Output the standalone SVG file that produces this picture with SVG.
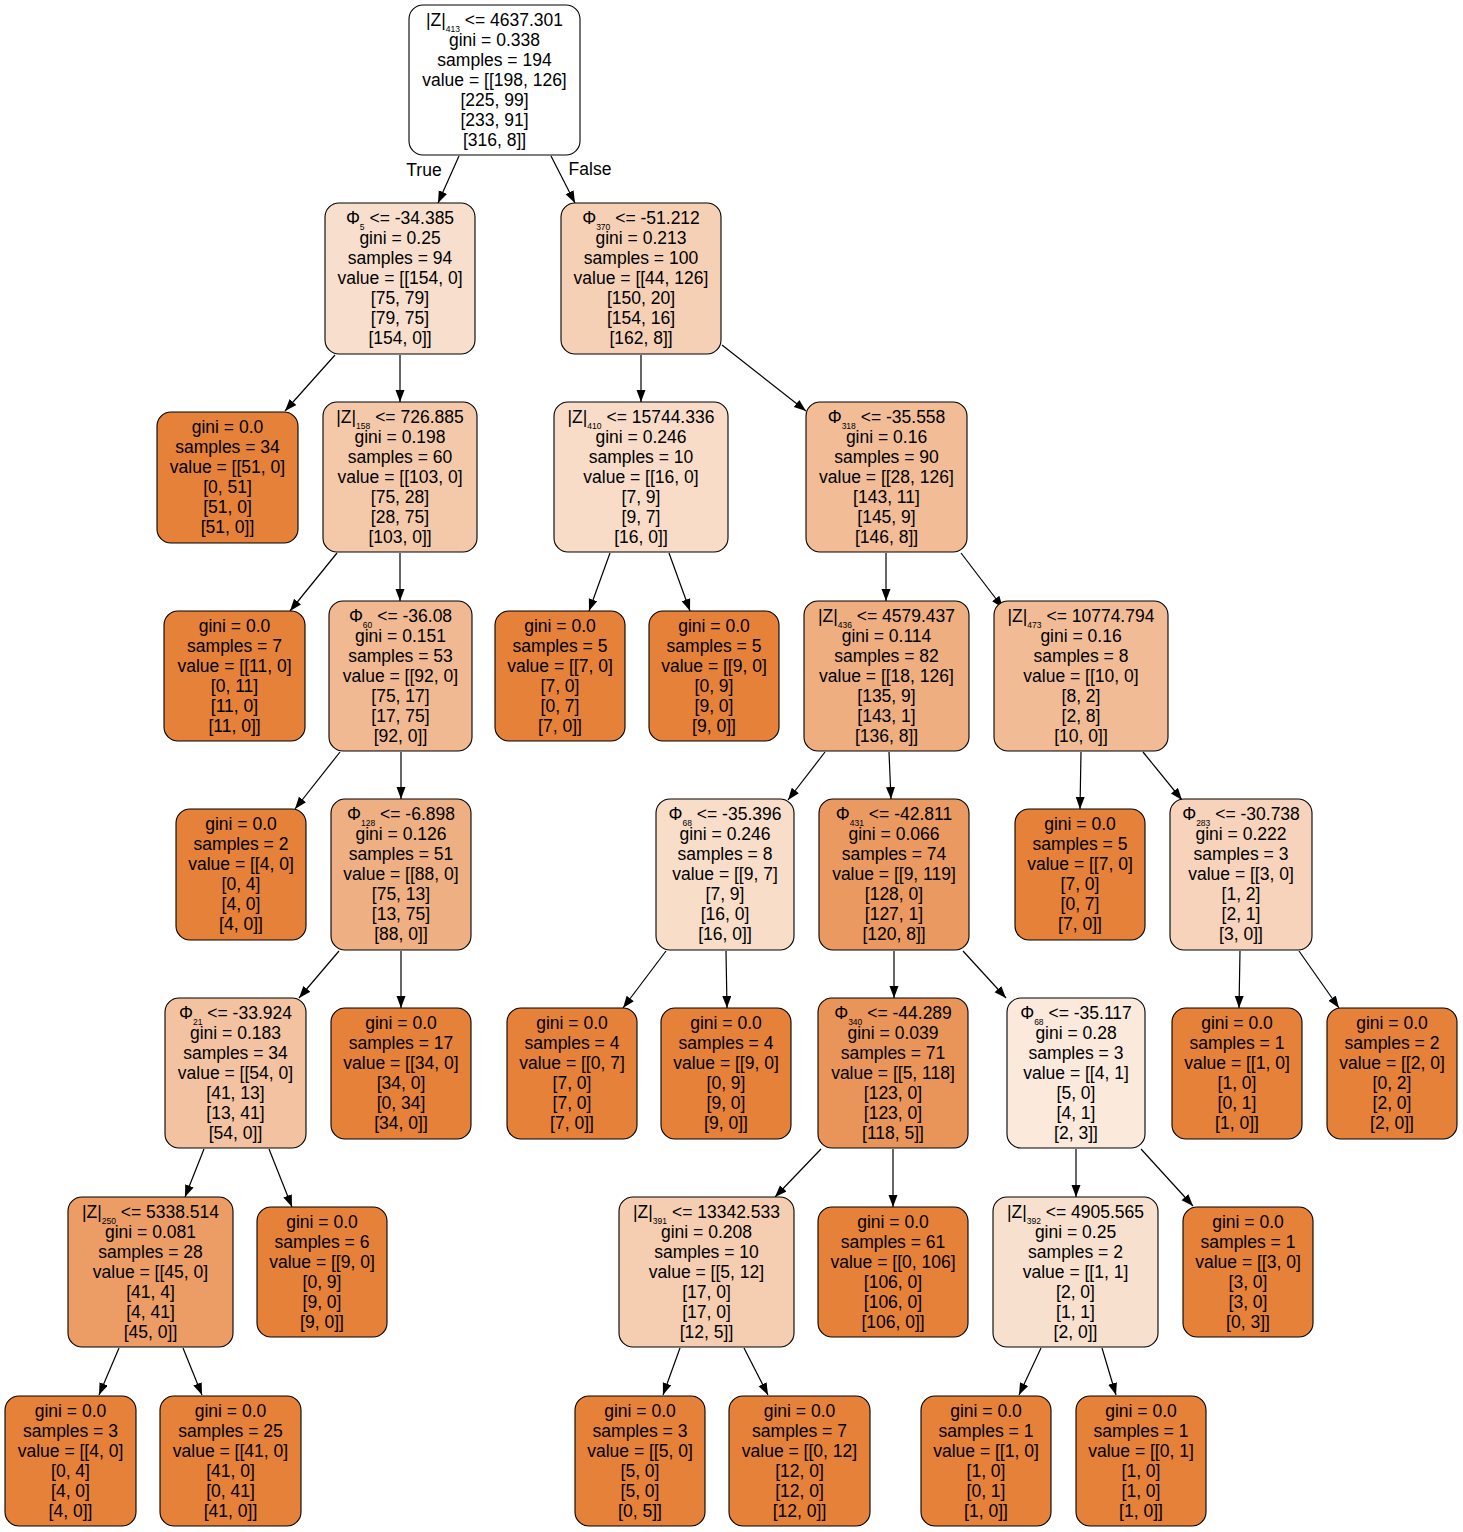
<svg xmlns="http://www.w3.org/2000/svg" width="1463" height="1532" viewBox="0 0 1463 1532">
<defs>
<style>
.n{stroke:#000;stroke-width:1.1}
.leaf{fill:#e58139}
text{font-family:"Liberation Sans",Arial,Helvetica,sans-serif;font-size:17.5px;fill:#000;text-anchor:middle}
.s{font-size:8.5px}
.e{stroke:#000;stroke-width:1.2;fill:none;marker-end:url(#ah)}
</style>
<marker id="ah" markerUnits="userSpaceOnUse" markerWidth="13" markerHeight="10" refX="12" refY="4.5" orient="auto">
<path d="M0,0 L12,4.5 L0,9 z" fill="#000"/>
</marker>
</defs>
<rect width="1463" height="1532" fill="#fff"/>

<g id="connectors">
<line class="e" x1="459" y1="156" x2="438" y2="203"/>
<line class="e" x1="551" y1="156" x2="575" y2="203"/>
<line class="e" x1="335" y1="355" x2="285" y2="411"/>
<line class="e" x1="400" y1="355" x2="400" y2="402"/>
<line class="e" x1="641" y1="355" x2="641" y2="402"/>
<line class="e" x1="722" y1="345" x2="806" y2="411"/>
<line class="e" x1="337" y1="553" x2="290" y2="611"/>
<line class="e" x1="400" y1="553" x2="400" y2="601"/>
<line class="e" x1="610" y1="553" x2="589" y2="611"/>
<line class="e" x1="669" y1="553" x2="690" y2="611"/>
<line class="e" x1="886" y1="553" x2="886" y2="601"/>
<line class="e" x1="961" y1="553" x2="1003" y2="608"/>
<line class="e" x1="340" y1="752" x2="295" y2="809"/>
<line class="e" x1="401" y1="752" x2="401" y2="799"/>
<line class="e" x1="825" y1="752" x2="788" y2="800"/>
<line class="e" x1="889" y1="752" x2="891" y2="799"/>
<line class="e" x1="1081" y1="752" x2="1080" y2="809"/>
<line class="e" x1="1143" y1="752" x2="1182" y2="800"/>
<line class="e" x1="339" y1="951" x2="299" y2="998"/>
<line class="e" x1="401" y1="951" x2="401" y2="1008"/>
<line class="e" x1="666" y1="951" x2="623" y2="1008"/>
<line class="e" x1="726" y1="951" x2="727" y2="1008"/>
<line class="e" x1="894" y1="951" x2="894" y2="998"/>
<line class="e" x1="963" y1="951" x2="1006" y2="998"/>
<line class="e" x1="1240" y1="951" x2="1239" y2="1008"/>
<line class="e" x1="1299" y1="951" x2="1339" y2="1008"/>
<line class="e" x1="204" y1="1149" x2="185" y2="1197"/>
<line class="e" x1="269" y1="1149" x2="292" y2="1207"/>
<line class="e" x1="821" y1="1149" x2="775" y2="1197"/>
<line class="e" x1="893" y1="1149" x2="893" y2="1207"/>
<line class="e" x1="1076" y1="1149" x2="1076" y2="1197"/>
<line class="e" x1="1141" y1="1149" x2="1193" y2="1206"/>
<line class="e" x1="119" y1="1348" x2="99" y2="1395"/>
<line class="e" x1="183" y1="1348" x2="202" y2="1395"/>
<line class="e" x1="680" y1="1348" x2="663" y2="1395"/>
<line class="e" x1="744" y1="1348" x2="768" y2="1395"/>
<line class="e" x1="1041" y1="1348" x2="1019" y2="1395"/>
<line class="e" x1="1102" y1="1348" x2="1116" y2="1395"/>
<text x="424" y="176">True</text>
<text x="590" y="175">False</text>
</g>

<!-- Level 0 -->
<g id="root">
<rect class="n" x="409" y="5" width="171" height="150" rx="14" fill="#ffffff"/>
<text><tspan x="494.5" y="26">|Z|</tspan><tspan class="s" dy="6">413</tspan><tspan dy="-6"> &lt;= 4637.301</tspan><tspan x="494.5" dy="20">gini = 0.338</tspan><tspan x="494.5" dy="20">samples = 194</tspan><tspan x="494.5" dy="20">value = [[198, 126]</tspan><tspan x="494.5" dy="20">[225, 99]</tspan><tspan x="494.5" dy="20">[233, 91]</tspan><tspan x="494.5" dy="20">[316, 8]]</tspan></text>
</g>

<!-- Level 1 -->
<g id="n_phi5">
<rect class="n" x="325" y="203" width="150" height="151" rx="14" fill="#f8dfcd"/>
<text><tspan x="400" y="224">Φ</tspan><tspan class="s" dy="6">5</tspan><tspan dy="-6"> &lt;= -34.385</tspan><tspan x="400" dy="20">gini = 0.25</tspan><tspan x="400" dy="20">samples = 94</tspan><tspan x="400" dy="20">value = [[154, 0]</tspan><tspan x="400" dy="20">[75, 79]</tspan><tspan x="400" dy="20">[79, 75]</tspan><tspan x="400" dy="20">[154, 0]]</tspan></text>
</g>
<g id="n_phi370">
<rect class="n" x="561" y="203" width="160" height="151" rx="14" fill="#f5d0b5"/>
<text><tspan x="641" y="224">Φ</tspan><tspan class="s" dy="6">370</tspan><tspan dy="-6"> &lt;= -51.212</tspan><tspan x="641" dy="20">gini = 0.213</tspan><tspan x="641" dy="20">samples = 100</tspan><tspan x="641" dy="20">value = [[44, 126]</tspan><tspan x="641" dy="20">[150, 20]</tspan><tspan x="641" dy="20">[154, 16]</tspan><tspan x="641" dy="20">[162, 8]]</tspan></text>
</g>

<!-- Level 2 -->
<g id="leaf_34">
<rect class="n leaf" x="157" y="412" width="141" height="131" rx="14"/>
<text><tspan x="227.5" y="433">gini = 0.0</tspan><tspan x="227.5" dy="20">samples = 34</tspan><tspan x="227.5" dy="20">value = [[51, 0]</tspan><tspan x="227.5" dy="20">[0, 51]</tspan><tspan x="227.5" dy="20">[51, 0]</tspan><tspan x="227.5" dy="20">[51, 0]]</tspan></text>
</g>
<g id="n_z158">
<rect class="n" x="323" y="402" width="154" height="150" rx="14" fill="#f4c9aa"/>
<text><tspan x="400" y="423">|Z|</tspan><tspan class="s" dy="6">158</tspan><tspan dy="-6"> &lt;= 726.885</tspan><tspan x="400" dy="20">gini = 0.198</tspan><tspan x="400" dy="20">samples = 60</tspan><tspan x="400" dy="20">value = [[103, 0]</tspan><tspan x="400" dy="20">[75, 28]</tspan><tspan x="400" dy="20">[28, 75]</tspan><tspan x="400" dy="20">[103, 0]]</tspan></text>
</g>
<g id="n_z410">
<rect class="n" x="554" y="402" width="174" height="150" rx="14" fill="#f8dcc8"/>
<text><tspan x="641" y="423">|Z|</tspan><tspan class="s" dy="6">410</tspan><tspan dy="-6"> &lt;= 15744.336</tspan><tspan x="641" dy="20">gini = 0.246</tspan><tspan x="641" dy="20">samples = 10</tspan><tspan x="641" dy="20">value = [[16, 0]</tspan><tspan x="641" dy="20">[7, 9]</tspan><tspan x="641" dy="20">[9, 7]</tspan><tspan x="641" dy="20">[16, 0]]</tspan></text>
</g>
<g id="n_phi318">
<rect class="n" x="806" y="402" width="161" height="150" rx="14" fill="#f1bc96"/>
<text><tspan x="886.5" y="423">Φ</tspan><tspan class="s" dy="6">318</tspan><tspan dy="-6"> &lt;= -35.558</tspan><tspan x="886.5" dy="20">gini = 0.16</tspan><tspan x="886.5" dy="20">samples = 90</tspan><tspan x="886.5" dy="20">value = [[28, 126]</tspan><tspan x="886.5" dy="20">[143, 11]</tspan><tspan x="886.5" dy="20">[145, 9]</tspan><tspan x="886.5" dy="20">[146, 8]]</tspan></text>
</g>

<!-- Level 3 -->
<g id="leaf_7">
<rect class="n leaf" x="164" y="611" width="141" height="130" rx="14"/>
<text><tspan x="234.5" y="632">gini = 0.0</tspan><tspan x="234.5" dy="20">samples = 7</tspan><tspan x="234.5" dy="20">value = [[11, 0]</tspan><tspan x="234.5" dy="20">[0, 11]</tspan><tspan x="234.5" dy="20">[11, 0]</tspan><tspan x="234.5" dy="20">[11, 0]]</tspan></text>
</g>
<g id="n_phi60">
<rect class="n" x="329" y="601" width="143" height="150" rx="14" fill="#f1b991"/>
<text><tspan x="400.5" y="622">Φ</tspan><tspan class="s" dy="6">60</tspan><tspan dy="-6"> &lt;= -36.08</tspan><tspan x="400.5" dy="20">gini = 0.151</tspan><tspan x="400.5" dy="20">samples = 53</tspan><tspan x="400.5" dy="20">value = [[92, 0]</tspan><tspan x="400.5" dy="20">[75, 17]</tspan><tspan x="400.5" dy="20">[17, 75]</tspan><tspan x="400.5" dy="20">[92, 0]]</tspan></text>
</g>
<g id="leaf_5a">
<rect class="n leaf" x="495" y="611" width="130" height="130" rx="14"/>
<text><tspan x="560" y="632">gini = 0.0</tspan><tspan x="560" dy="20">samples = 5</tspan><tspan x="560" dy="20">value = [[7, 0]</tspan><tspan x="560" dy="20">[7, 0]</tspan><tspan x="560" dy="20">[0, 7]</tspan><tspan x="560" dy="20">[7, 0]]</tspan></text>
</g>
<g id="leaf_5b">
<rect class="n leaf" x="649" y="611" width="130" height="130" rx="14"/>
<text><tspan x="714" y="632">gini = 0.0</tspan><tspan x="714" dy="20">samples = 5</tspan><tspan x="714" dy="20">value = [[9, 0]</tspan><tspan x="714" dy="20">[0, 9]</tspan><tspan x="714" dy="20">[9, 0]</tspan><tspan x="714" dy="20">[9, 0]]</tspan></text>
</g>
<g id="n_z436">
<rect class="n" x="804" y="601" width="165" height="150" rx="14" fill="#eeae80"/>
<text><tspan x="886.5" y="622">|Z|</tspan><tspan class="s" dy="6">436</tspan><tspan dy="-6"> &lt;= 4579.437</tspan><tspan x="886.5" dy="20">gini = 0.114</tspan><tspan x="886.5" dy="20">samples = 82</tspan><tspan x="886.5" dy="20">value = [[18, 126]</tspan><tspan x="886.5" dy="20">[135, 9]</tspan><tspan x="886.5" dy="20">[143, 1]</tspan><tspan x="886.5" dy="20">[136, 8]]</tspan></text>
</g>
<g id="n_z473">
<rect class="n" x="994" y="601" width="174" height="150" rx="14" fill="#f1bc95"/>
<text><tspan x="1081" y="622">|Z|</tspan><tspan class="s" dy="6">473</tspan><tspan dy="-6"> &lt;= 10774.794</tspan><tspan x="1081" dy="20">gini = 0.16</tspan><tspan x="1081" dy="20">samples = 8</tspan><tspan x="1081" dy="20">value = [[10, 0]</tspan><tspan x="1081" dy="20">[8, 2]</tspan><tspan x="1081" dy="20">[2, 8]</tspan><tspan x="1081" dy="20">[10, 0]]</tspan></text>
</g>

<!-- Level 4 -->
<g id="leaf_2">
<rect class="n leaf" x="176" y="809" width="130" height="131" rx="14"/>
<text><tspan x="241" y="830">gini = 0.0</tspan><tspan x="241" dy="20">samples = 2</tspan><tspan x="241" dy="20">value = [[4, 0]</tspan><tspan x="241" dy="20">[0, 4]</tspan><tspan x="241" dy="20">[4, 0]</tspan><tspan x="241" dy="20">[4, 0]]</tspan></text>
</g>
<g id="n_phi128">
<rect class="n" x="331" y="799" width="140" height="151" rx="14" fill="#eeb083"/>
<text><tspan x="401" y="820">Φ</tspan><tspan class="s" dy="6">128</tspan><tspan dy="-6"> &lt;= -6.898</tspan><tspan x="401" dy="20">gini = 0.126</tspan><tspan x="401" dy="20">samples = 51</tspan><tspan x="401" dy="20">value = [[88, 0]</tspan><tspan x="401" dy="20">[75, 13]</tspan><tspan x="401" dy="20">[13, 75]</tspan><tspan x="401" dy="20">[88, 0]]</tspan></text>
</g>
<g id="n_phi68a">
<rect class="n" x="656" y="799" width="138" height="151" rx="14" fill="#f8ddc9"/>
<text><tspan x="725" y="820">Φ</tspan><tspan class="s" dy="6">68</tspan><tspan dy="-6"> &lt;= -35.396</tspan><tspan x="725" dy="20">gini = 0.246</tspan><tspan x="725" dy="20">samples = 8</tspan><tspan x="725" dy="20">value = [[9, 7]</tspan><tspan x="725" dy="20">[7, 9]</tspan><tspan x="725" dy="20">[16, 0]</tspan><tspan x="725" dy="20">[16, 0]]</tspan></text>
</g>
<g id="n_phi431">
<rect class="n" x="819" y="799" width="150" height="151" rx="14" fill="#ea9a61"/>
<text><tspan x="894" y="820">Φ</tspan><tspan class="s" dy="6">431</tspan><tspan dy="-6"> &lt;= -42.811</tspan><tspan x="894" dy="20">gini = 0.066</tspan><tspan x="894" dy="20">samples = 74</tspan><tspan x="894" dy="20">value = [[9, 119]</tspan><tspan x="894" dy="20">[128, 0]</tspan><tspan x="894" dy="20">[127, 1]</tspan><tspan x="894" dy="20">[120, 8]]</tspan></text>
</g>
<g id="leaf_5c">
<rect class="n leaf" x="1015" y="809" width="130" height="131" rx="14"/>
<text><tspan x="1080" y="830">gini = 0.0</tspan><tspan x="1080" dy="20">samples = 5</tspan><tspan x="1080" dy="20">value = [[7, 0]</tspan><tspan x="1080" dy="20">[7, 0]</tspan><tspan x="1080" dy="20">[0, 7]</tspan><tspan x="1080" dy="20">[7, 0]]</tspan></text>
</g>
<g id="n_phi283">
<rect class="n" x="1170" y="799" width="142" height="151" rx="14" fill="#f6d3ba"/>
<text><tspan x="1241" y="820">Φ</tspan><tspan class="s" dy="6">283</tspan><tspan dy="-6"> &lt;= -30.738</tspan><tspan x="1241" dy="20">gini = 0.222</tspan><tspan x="1241" dy="20">samples = 3</tspan><tspan x="1241" dy="20">value = [[3, 0]</tspan><tspan x="1241" dy="20">[1, 2]</tspan><tspan x="1241" dy="20">[2, 1]</tspan><tspan x="1241" dy="20">[3, 0]]</tspan></text>
</g>

<!-- Level 5 -->
<g id="n_phi21">
<rect class="n" x="165" y="998" width="141" height="150" rx="14" fill="#f3c3a1"/>
<text><tspan x="235.5" y="1019">Φ</tspan><tspan class="s" dy="6">21</tspan><tspan dy="-6"> &lt;= -33.924</tspan><tspan x="235.5" dy="20">gini = 0.183</tspan><tspan x="235.5" dy="20">samples = 34</tspan><tspan x="235.5" dy="20">value = [[54, 0]</tspan><tspan x="235.5" dy="20">[41, 13]</tspan><tspan x="235.5" dy="20">[13, 41]</tspan><tspan x="235.5" dy="20">[54, 0]]</tspan></text>
</g>
<g id="leaf_17">
<rect class="n leaf" x="331" y="1008" width="140" height="131" rx="14"/>
<text><tspan x="401" y="1029">gini = 0.0</tspan><tspan x="401" dy="20">samples = 17</tspan><tspan x="401" dy="20">value = [[34, 0]</tspan><tspan x="401" dy="20">[34, 0]</tspan><tspan x="401" dy="20">[0, 34]</tspan><tspan x="401" dy="20">[34, 0]]</tspan></text>
</g>
<g id="leaf_4a">
<rect class="n leaf" x="507" y="1008" width="130" height="131" rx="14"/>
<text><tspan x="572" y="1029">gini = 0.0</tspan><tspan x="572" dy="20">samples = 4</tspan><tspan x="572" dy="20">value = [[0, 7]</tspan><tspan x="572" dy="20">[7, 0]</tspan><tspan x="572" dy="20">[7, 0]</tspan><tspan x="572" dy="20">[7, 0]]</tspan></text>
</g>
<g id="leaf_4b">
<rect class="n leaf" x="661" y="1008" width="130" height="131" rx="14"/>
<text><tspan x="726" y="1029">gini = 0.0</tspan><tspan x="726" dy="20">samples = 4</tspan><tspan x="726" dy="20">value = [[9, 0]</tspan><tspan x="726" dy="20">[0, 9]</tspan><tspan x="726" dy="20">[9, 0]</tspan><tspan x="726" dy="20">[9, 0]]</tspan></text>
</g>
<g id="n_phi340">
<rect class="n" x="818" y="998" width="150" height="150" rx="14" fill="#e99559"/>
<text><tspan x="893" y="1019">Φ</tspan><tspan class="s" dy="6">340</tspan><tspan dy="-6"> &lt;= -44.289</tspan><tspan x="893" dy="20">gini = 0.039</tspan><tspan x="893" dy="20">samples = 71</tspan><tspan x="893" dy="20">value = [[5, 118]</tspan><tspan x="893" dy="20">[123, 0]</tspan><tspan x="893" dy="20">[123, 0]</tspan><tspan x="893" dy="20">[118, 5]]</tspan></text>
</g>
<g id="n_phi68b">
<rect class="n" x="1007" y="998" width="138" height="150" rx="14" fill="#fbe9dc"/>
<text><tspan x="1076" y="1019">Φ</tspan><tspan class="s" dy="6">68</tspan><tspan dy="-6"> &lt;= -35.117</tspan><tspan x="1076" dy="20">gini = 0.28</tspan><tspan x="1076" dy="20">samples = 3</tspan><tspan x="1076" dy="20">value = [[4, 1]</tspan><tspan x="1076" dy="20">[5, 0]</tspan><tspan x="1076" dy="20">[4, 1]</tspan><tspan x="1076" dy="20">[2, 3]]</tspan></text>
</g>
<g id="leaf_1a">
<rect class="n leaf" x="1172" y="1008" width="130" height="131" rx="14"/>
<text><tspan x="1237" y="1029">gini = 0.0</tspan><tspan x="1237" dy="20">samples = 1</tspan><tspan x="1237" dy="20">value = [[1, 0]</tspan><tspan x="1237" dy="20">[1, 0]</tspan><tspan x="1237" dy="20">[0, 1]</tspan><tspan x="1237" dy="20">[1, 0]]</tspan></text>
</g>
<g id="leaf_2b">
<rect class="n leaf" x="1327" y="1008" width="130" height="131" rx="14"/>
<text><tspan x="1392" y="1029">gini = 0.0</tspan><tspan x="1392" dy="20">samples = 2</tspan><tspan x="1392" dy="20">value = [[2, 0]</tspan><tspan x="1392" dy="20">[0, 2]</tspan><tspan x="1392" dy="20">[2, 0]</tspan><tspan x="1392" dy="20">[2, 0]]</tspan></text>
</g>

<!-- Level 6 -->
<g id="n_z250">
<rect class="n" x="68" y="1197" width="165" height="150" rx="14" fill="#eb9d65"/>
<text><tspan x="150.5" y="1218">|Z|</tspan><tspan class="s" dy="6">250</tspan><tspan dy="-6"> &lt;= 5338.514</tspan><tspan x="150.5" dy="20">gini = 0.081</tspan><tspan x="150.5" dy="20">samples = 28</tspan><tspan x="150.5" dy="20">value = [[45, 0]</tspan><tspan x="150.5" dy="20">[41, 4]</tspan><tspan x="150.5" dy="20">[4, 41]</tspan><tspan x="150.5" dy="20">[45, 0]]</tspan></text>
</g>
<g id="leaf_6">
<rect class="n leaf" x="257" y="1207" width="130" height="130" rx="14"/>
<text><tspan x="322" y="1228">gini = 0.0</tspan><tspan x="322" dy="20">samples = 6</tspan><tspan x="322" dy="20">value = [[9, 0]</tspan><tspan x="322" dy="20">[0, 9]</tspan><tspan x="322" dy="20">[9, 0]</tspan><tspan x="322" dy="20">[9, 0]]</tspan></text>
</g>
<g id="n_z391">
<rect class="n" x="619" y="1197" width="175" height="150" rx="14" fill="#f5cdb0"/>
<text><tspan x="706.5" y="1218">|Z|</tspan><tspan class="s" dy="6">391</tspan><tspan dy="-6"> &lt;= 13342.533</tspan><tspan x="706.5" dy="20">gini = 0.208</tspan><tspan x="706.5" dy="20">samples = 10</tspan><tspan x="706.5" dy="20">value = [[5, 12]</tspan><tspan x="706.5" dy="20">[17, 0]</tspan><tspan x="706.5" dy="20">[17, 0]</tspan><tspan x="706.5" dy="20">[12, 5]]</tspan></text>
</g>
<g id="leaf_61">
<rect class="n leaf" x="818" y="1207" width="150" height="130" rx="14"/>
<text><tspan x="893" y="1228">gini = 0.0</tspan><tspan x="893" dy="20">samples = 61</tspan><tspan x="893" dy="20">value = [[0, 106]</tspan><tspan x="893" dy="20">[106, 0]</tspan><tspan x="893" dy="20">[106, 0]</tspan><tspan x="893" dy="20">[106, 0]]</tspan></text>
</g>
<g id="n_z392">
<rect class="n" x="993" y="1197" width="165" height="150" rx="14" fill="#f8e0ce"/>
<text><tspan x="1075.5" y="1218">|Z|</tspan><tspan class="s" dy="6">392</tspan><tspan dy="-6"> &lt;= 4905.565</tspan><tspan x="1075.5" dy="20">gini = 0.25</tspan><tspan x="1075.5" dy="20">samples = 2</tspan><tspan x="1075.5" dy="20">value = [[1, 1]</tspan><tspan x="1075.5" dy="20">[2, 0]</tspan><tspan x="1075.5" dy="20">[1, 1]</tspan><tspan x="1075.5" dy="20">[2, 0]]</tspan></text>
</g>
<g id="leaf_1b">
<rect class="n leaf" x="1183" y="1207" width="130" height="130" rx="14"/>
<text><tspan x="1248" y="1228">gini = 0.0</tspan><tspan x="1248" dy="20">samples = 1</tspan><tspan x="1248" dy="20">value = [[3, 0]</tspan><tspan x="1248" dy="20">[3, 0]</tspan><tspan x="1248" dy="20">[3, 0]</tspan><tspan x="1248" dy="20">[0, 3]]</tspan></text>
</g>

<!-- Level 7 -->
<g id="leaf_3a">
<rect class="n leaf" x="5" y="1396" width="131" height="130" rx="14"/>
<text><tspan x="70.5" y="1417">gini = 0.0</tspan><tspan x="70.5" dy="20">samples = 3</tspan><tspan x="70.5" dy="20">value = [[4, 0]</tspan><tspan x="70.5" dy="20">[0, 4]</tspan><tspan x="70.5" dy="20">[4, 0]</tspan><tspan x="70.5" dy="20">[4, 0]]</tspan></text>
</g>
<g id="leaf_25">
<rect class="n leaf" x="160" y="1396" width="141" height="130" rx="14"/>
<text><tspan x="230.5" y="1417">gini = 0.0</tspan><tspan x="230.5" dy="20">samples = 25</tspan><tspan x="230.5" dy="20">value = [[41, 0]</tspan><tspan x="230.5" dy="20">[41, 0]</tspan><tspan x="230.5" dy="20">[0, 41]</tspan><tspan x="230.5" dy="20">[41, 0]]</tspan></text>
</g>
<g id="leaf_3b">
<rect class="n leaf" x="575" y="1396" width="130" height="130" rx="14"/>
<text><tspan x="640" y="1417">gini = 0.0</tspan><tspan x="640" dy="20">samples = 3</tspan><tspan x="640" dy="20">value = [[5, 0]</tspan><tspan x="640" dy="20">[5, 0]</tspan><tspan x="640" dy="20">[5, 0]</tspan><tspan x="640" dy="20">[0, 5]]</tspan></text>
</g>
<g id="leaf_7b">
<rect class="n leaf" x="729" y="1396" width="141" height="130" rx="14"/>
<text><tspan x="799.5" y="1417">gini = 0.0</tspan><tspan x="799.5" dy="20">samples = 7</tspan><tspan x="799.5" dy="20">value = [[0, 12]</tspan><tspan x="799.5" dy="20">[12, 0]</tspan><tspan x="799.5" dy="20">[12, 0]</tspan><tspan x="799.5" dy="20">[12, 0]]</tspan></text>
</g>
<g id="leaf_1c">
<rect class="n leaf" x="921" y="1396" width="130" height="130" rx="14"/>
<text><tspan x="986" y="1417">gini = 0.0</tspan><tspan x="986" dy="20">samples = 1</tspan><tspan x="986" dy="20">value = [[1, 0]</tspan><tspan x="986" dy="20">[1, 0]</tspan><tspan x="986" dy="20">[0, 1]</tspan><tspan x="986" dy="20">[1, 0]]</tspan></text>
</g>
<g id="leaf_1d">
<rect class="n leaf" x="1076" y="1396" width="130" height="130" rx="14"/>
<text><tspan x="1141" y="1417">gini = 0.0</tspan><tspan x="1141" dy="20">samples = 1</tspan><tspan x="1141" dy="20">value = [[0, 1]</tspan><tspan x="1141" dy="20">[1, 0]</tspan><tspan x="1141" dy="20">[1, 0]</tspan><tspan x="1141" dy="20">[1, 0]]</tspan></text>
</g>
</svg>
